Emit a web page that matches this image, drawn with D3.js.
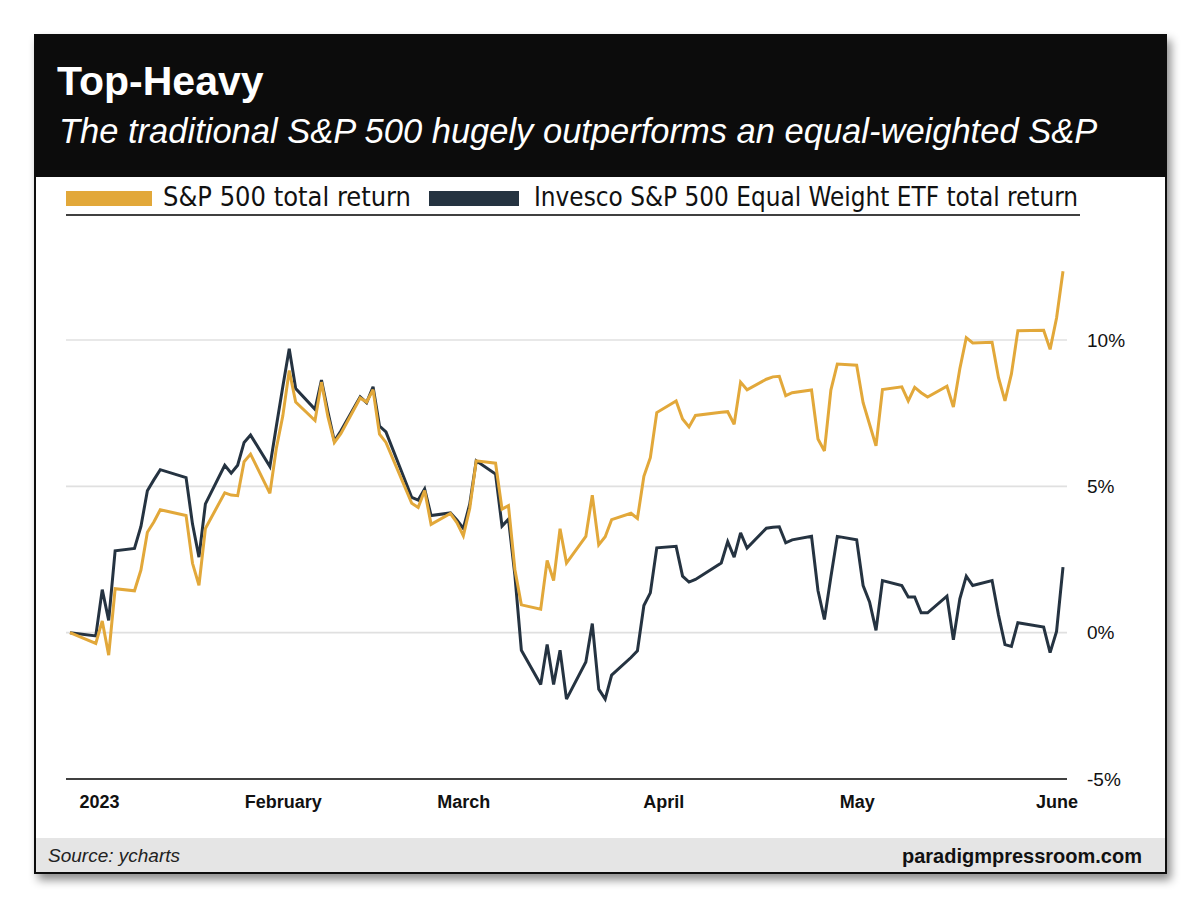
<!DOCTYPE html>
<html>
<head>
<meta charset="utf-8">
<script src="https://cdn.jsdelivr.net/npm/d3@7"></script>
<style>
  html, body { margin: 0; padding: 0; background: #ffffff; }
  svg { display: block; }
</style>
</head>
<body>
<svg id="chart" width="1200" height="917"></svg>
<script>
// ---------------- DATA ----------------
const dates = [
  "2022-12-30",
  "2023-01-03","2023-01-04","2023-01-05","2023-01-06","2023-01-09","2023-01-10","2023-01-11","2023-01-12","2023-01-13",
  "2023-01-17","2023-01-18","2023-01-19","2023-01-20","2023-01-23","2023-01-24","2023-01-25","2023-01-26","2023-01-27",
  "2023-01-30","2023-01-31",
  "2023-02-01","2023-02-02","2023-02-03","2023-02-06","2023-02-07","2023-02-08","2023-02-09","2023-02-10","2023-02-13",
  "2023-02-14","2023-02-15","2023-02-16","2023-02-17","2023-02-21","2023-02-22","2023-02-23","2023-02-24","2023-02-27",
  "2023-02-28",
  "2023-03-01","2023-03-02","2023-03-03","2023-03-06","2023-03-07","2023-03-08","2023-03-09","2023-03-10","2023-03-13",
  "2023-03-14","2023-03-15","2023-03-16","2023-03-17","2023-03-20","2023-03-21","2023-03-22","2023-03-23","2023-03-24",
  "2023-03-27","2023-03-28","2023-03-29","2023-03-30","2023-03-31",
  "2023-04-03","2023-04-04","2023-04-05","2023-04-06","2023-04-10","2023-04-11","2023-04-12","2023-04-13","2023-04-14",
  "2023-04-17","2023-04-18","2023-04-19","2023-04-20","2023-04-21","2023-04-24","2023-04-25","2023-04-26","2023-04-27",
  "2023-04-28",
  "2023-05-01","2023-05-02","2023-05-03","2023-05-04","2023-05-05","2023-05-08","2023-05-09","2023-05-10","2023-05-11",
  "2023-05-12","2023-05-15","2023-05-16","2023-05-17","2023-05-18","2023-05-19","2023-05-22","2023-05-23","2023-05-24",
  "2023-05-25","2023-05-26","2023-05-30","2023-05-31",
  "2023-06-01","2023-06-02"
];

// S&P 500 total return, % since 2022-12-30
const sp500 = [
  0,
  -0.37, 0.40, -0.77, 1.50, 1.43, 2.14, 3.43, 3.78, 4.20,
  4.00, 2.37, 1.62, 3.56, 4.78, 4.70, 4.68, 5.84, 6.10,
  4.76, 6.30,
  7.40, 8.96, 7.88, 7.25, 8.56, 7.38, 6.50, 6.80, 8.02,
  7.88, 8.30, 6.78, 6.50, 4.42, 4.28, 4.86, 3.70, 4.07,
  3.76,
  3.31, 4.25, 5.87, 5.79, 4.22, 4.34, 2.15, 0.95, 0.80,
  2.47, 1.78, 3.55, 2.38, 3.29, 4.70, 3.00, 3.28, 3.86,
  4.08, 3.90, 5.34, 5.98, 7.52,
  7.92, 7.30, 7.03, 7.42, 7.53, 7.55, 7.12, 8.56, 8.30,
  8.66, 8.74, 8.76, 8.10, 8.20, 8.29, 6.62, 6.21, 8.29,
  9.18,
  9.14, 7.86, 7.12, 6.38, 8.31, 8.40, 7.92, 8.38, 8.20,
  8.05, 8.42, 7.71, 9.02, 10.08, 9.90, 9.92, 8.71, 7.92,
  8.84, 10.32, 10.33, 9.68,
  10.75, 12.35
];

// Invesco S&P 500 Equal Weight ETF total return, % since 2022-12-30
const rsp = [
  0,
  -0.11, 1.47, 0.42, 2.80, 2.88, 3.63, 4.85, 5.22, 5.57,
  5.30, 3.71, 2.58, 4.40, 5.72, 5.45, 5.72, 6.50, 6.75,
  5.68, 7.05,
  8.40, 9.70, 8.34, 7.63, 8.63, 7.55, 6.55, 6.89, 8.06,
  7.86, 8.40, 7.06, 6.86, 4.62, 4.53, 4.91, 4.00, 4.09,
  3.85,
  3.56, 4.40, 5.87, 5.42, 3.64, 3.88, 1.95, -0.60, -1.77,
  -0.40, -1.77, -0.60, -2.27, -1.00, 0.31, -1.93, -2.27, -1.45,
  -0.85, -0.62, 0.93, 1.36, 2.90,
  2.95, 1.93, 1.73, 1.82, 2.38, 3.11, 2.58, 3.41, 2.89,
  3.57, 3.60, 3.62, 3.07, 3.17, 3.29, 1.44, 0.45, 1.90,
  3.29,
  3.17, 1.61, 1.05, 0.08, 1.78, 1.61, 1.22, 1.22, 0.68,
  0.68, 1.25, -0.24, 1.16, 1.93, 1.61, 1.78, 0.60, -0.41,
  -0.47, 0.34, 0.19, -0.68,
  0.04, 2.24
];

const seriesNames = ["S&P 500 total return", "Invesco S&P 500 Equal Weight ETF total return"];
const seriesColors = ["#E2A83A", "#253341"];
const yTicks = [-5, 0, 5, 10];
const xTickDates = ["2023-01-01", "2023-02-01", "2023-03-01", "2023-04-01", "2023-05-01", "2023-06-01"];
const xTickLabels = ["2023", "February", "March", "April", "May", "June"];
const titleText = "Top-Heavy";
const subtitleText = "The traditional S&P 500 hugely outperforms an equal-weighted S&P";
const sourceText = "Source: ycharts";
const brandText = "paradigmpressroom.com";

// ---------------- DRAW ----------------
const svg = d3.select("#chart");
const FONT = "'Liberation Sans', Arial, Helvetica, sans-serif";
const parse = d3.utcParse("%Y-%m-%d");

const rows = dates.map((d, i) => ({ date: parse(d), sp: sp500[i], eq: rsp[i] }));

const x = d3.scaleUtc()
  .domain([rows[0].date, rows[rows.length - 1].date])
  .range([70, 1063]);
const y = d3.scaleLinear().domain([-5, 10]).range([779, 340]);

// card with shadow
const defs = svg.append("defs");
const f = defs.append("filter").attr("id", "shadow")
  .attr("x", "-5%").attr("y", "-5%").attr("width", "115%").attr("height", "115%");
f.append("feDropShadow").attr("dx", 4).attr("dy", 6).attr("stdDeviation", 5)
  .attr("flood-color", "#000").attr("flood-opacity", 0.45);

svg.append("rect").attr("x", 35).attr("y", 35).attr("width", 1131).attr("height", 838)
  .attr("fill", "#ffffff").attr("stroke", "#111").attr("stroke-width", 2)
  .attr("filter", "url(#shadow)");

// header band
svg.append("rect").attr("x", 35).attr("y", 35).attr("width", 1131).attr("height", 142)
  .attr("fill", "#0c0c0c");
svg.append("text").attr("x", 57).attr("y", 95)
  .attr("font-family", FONT).attr("font-weight", "bold").attr("font-size", 41)
  .attr("fill", "#ffffff").text(titleText);
svg.append("text").attr("x", 59).attr("y", 143)
  .attr("font-family", FONT).attr("font-style", "italic").attr("font-size", 34.5)
  .attr("fill", "#ffffff").text(subtitleText);

// footer band
svg.append("rect").attr("x", 36).attr("y", 838).attr("width", 1129).attr("height", 34)
  .attr("fill", "#e5e5e5");
svg.append("text").attr("x", 48).attr("y", 862)
  .attr("font-family", FONT).attr("font-style", "italic").attr("font-size", 19)
  .attr("fill", "#222").text(sourceText);
svg.append("text").attr("x", 1142).attr("y", 863).attr("text-anchor", "end")
  .attr("font-family", FONT).attr("font-weight", "bold").attr("font-size", 20)
  .attr("fill", "#111").text(brandText);

// legend
const legendItems = [
  { name: seriesNames[0], color: seriesColors[0], sx: 66, sw: 86, tx: 163, tl: 248 },
  { name: seriesNames[1], color: seriesColors[1], sx: 429, sw: 90, tx: 534, tl: 544 }
];
const lg = svg.append("g");
legendItems.forEach(it => {
  lg.append("rect").attr("x", it.sx).attr("y", 191).attr("width", it.sw).attr("height", 15)
    .attr("fill", it.color);
  lg.append("text").attr("x", it.tx).attr("y", 206)
    .attr("font-family", "'Liberation Sans Narrow', 'DejaVu Sans Condensed', " + FONT)
    .attr("font-size", 27).attr("fill", "#111")
    .attr("textLength", it.tl).attr("lengthAdjust", "spacingAndGlyphs")
    .text(it.name);
});
svg.append("line").attr("x1", 66).attr("x2", 1080).attr("y1", 215).attr("y2", 215)
  .attr("stroke", "#000").attr("stroke-width", 1.5);

// gridlines
svg.append("g").selectAll("line").data(yTicks).join("line")
  .attr("x1", 66).attr("x2", 1067)
  .attr("y1", d => y(d)).attr("y2", d => y(d))
  .attr("stroke", d => d === -5 ? "#000" : "#e0e0e0")
  .attr("stroke-width", d => d === -5 ? 1.6 : 1.6);

// y axis (right)
const yAxis = svg.append("g").attr("transform", "translate(1085,0)")
  .call(d3.axisRight(y).tickValues(yTicks).tickSize(0).tickPadding(2).tickFormat(d => d + "%"));
yAxis.select(".domain").remove();
yAxis.selectAll("text").attr("font-family", FONT).attr("font-size", 19).attr("fill", "#111");

// x axis
const xAxis = svg.append("g").attr("transform", "translate(0,795)")
  .call(d3.axisBottom(x).tickValues(xTickDates.map(parse)).tickSize(0).tickPadding(0)
    .tickFormat((d, i) => xTickLabels[i]));
xAxis.select(".domain").remove();
xAxis.selectAll("text").attr("font-family", FONT).attr("font-weight", "bold")
  .attr("font-size", 18).attr("fill", "#111");
xAxis.selectAll(".tick").filter((d, i) => i === 0).select("text")
  .attr("text-anchor", "start").attr("dx", -4);

// lines
const lineEq = d3.line().x(d => x(d.date)).y(d => y(d.eq));
const lineSp = d3.line().x(d => x(d.date)).y(d => y(d.sp));
svg.append("path").datum(rows).attr("d", lineEq)
  .attr("fill", "none").attr("stroke", seriesColors[1]).attr("stroke-width", 3)
  .attr("stroke-linejoin", "miter").attr("stroke-miterlimit", 3);
svg.append("path").datum(rows).attr("d", lineSp)
  .attr("fill", "none").attr("stroke", seriesColors[0]).attr("stroke-width", 3)
  .attr("stroke-linejoin", "miter").attr("stroke-miterlimit", 3);
</script>
</body>
</html>
